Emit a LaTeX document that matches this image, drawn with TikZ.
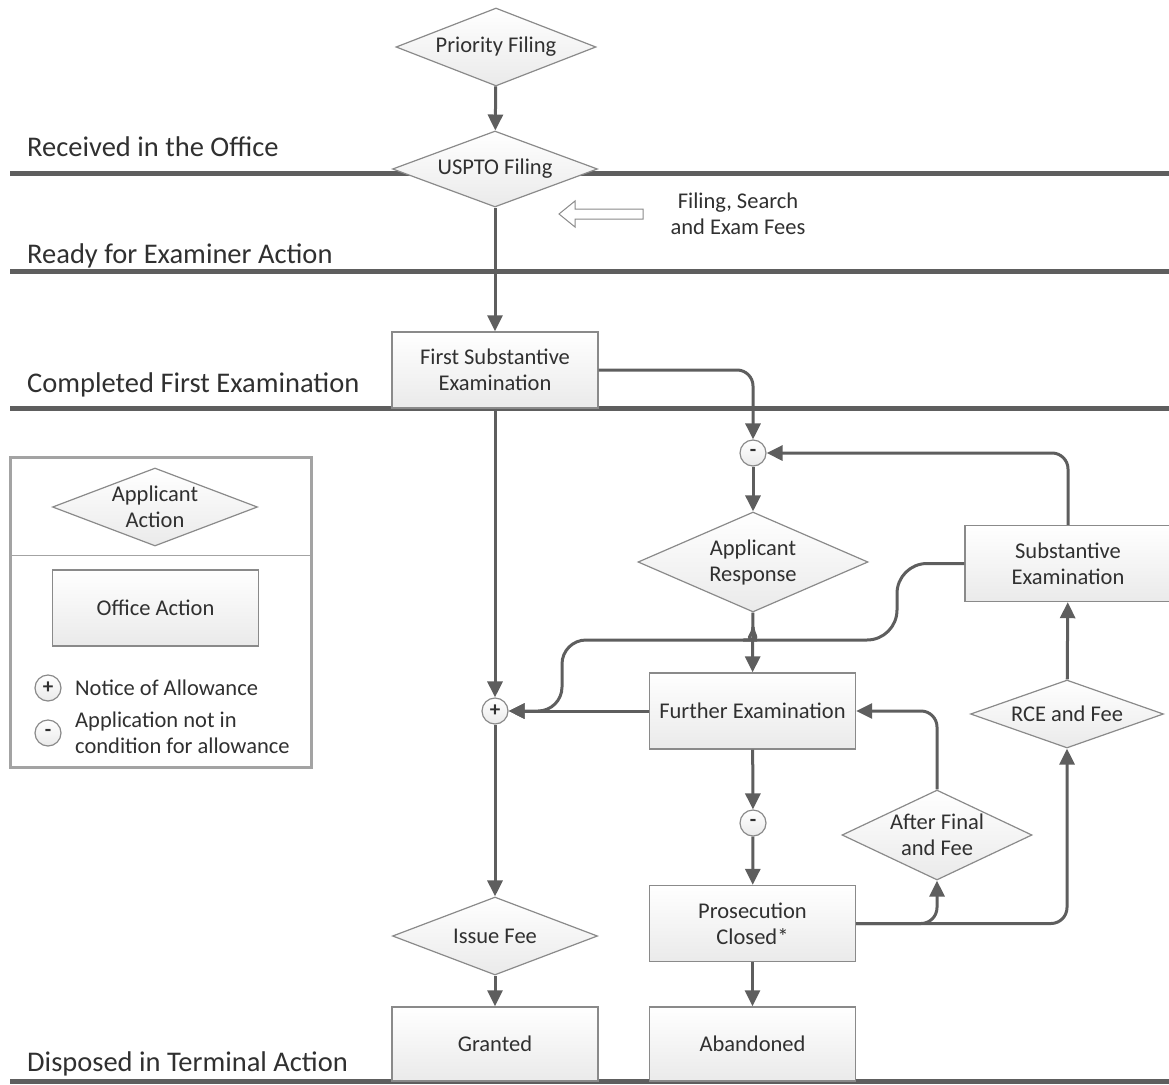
\documentclass[tikz,border=0pt]{standalone}
\usepackage{fontspec}
\setmainfont{Carlito}
\usetikzlibrary{arrows.meta,calc,positioning,shapes.geometric}
\definecolor{Ink}{HTML}{303030}
\definecolor{Wire}{HTML}{5E5E5E}
\definecolor{Edge}{HTML}{8A8A8A}
\definecolor{Frame}{HTML}{A3A3A3}
\definecolor{Shade}{HTML}{EAEAEA}
\tikzset{office/.style={draw=Edge,line width=1.4pt,top color=white,bottom color=Shade,minimum width=206pt,minimum height=76pt,align=center,inner sep=2pt,text=Ink,font=\fontsize{22.5}{26}\selectfont},applicant/.style={diamond,aspect=2.2,draw=Edge,line width=1.2pt,top color=white,bottom color=Shade,align=center,inner sep=-12pt,text=Ink,font=\fontsize{22.5}{26}\selectfont},sign/.style={circle,draw=Edge,line width=1.2pt,top color=white,bottom color=Shade,minimum size=26pt,inner sep=0pt,text=Ink,font=\fontsize{21}{21}\selectfont\bfseries},flow/.style={-{Triangle[length=16pt,width=15pt]},line width=3pt,draw=Wire,rounded corners=16pt},stage/.style={line width=5pt,draw=Wire},stagelabel/.style={anchor=base west,inner sep=0pt,text=Ink,font=\fontsize{28.5}{34}\selectfont},note/.style={inner sep=0pt,text=Ink,font=\fontsize{22.5}{26}\selectfont}}

\begin{document}
\begin{tikzpicture}[x=1pt,y=-1pt]
        \useasboundingbox (0,0) rectangle (1169,1084);
        % stages
        \draw[stage](10,173)--(1169,173);
        \draw[stage](10,271)--(1169,271);
        \draw[stage](10,408)--(1169,408);
        \draw[stage](10,1081)--(1169,1081);
        \node[stagelabel](received)at(27,156){Received in the Office};
        \node[stagelabel](ready)at(27,263){Ready for Examiner Action};
        \node[stagelabel](completed)at(27,392){Completed First Examination};
        \node[stagelabel](disposed)at(27,1071){Disposed in Terminal Action};
        % legend
        \draw[draw=Frame,line width=3pt](10,457)rectangle(311,767);
        \draw[draw=Frame,line width=.8pt](10,555)--(311,555);
        \node[applicant,minimum width=205pt,minimum height=78pt](keyapp)at(155,507){Applicant\\Action};
        \node[office](keyoffice)at(155.5,608){Office Action};
        \node[sign](keyplus)at(48,688){+};
        \node[sign](keyminus)at(48,733){-};
        \node[note,anchor=west](keyplustext)at(75,688){Notice of Allowance};
        \node[note,anchor=west,align=left](keyminustext)at(75,733){Application not in\\condition for allowance};
        % nodes
        \node[applicant,minimum width=200pt,minimum height=78pt](prio)at(496,47){Priority Filing};
        \node[applicant,minimum width=205pt,minimum height=76pt](uspto)at(495,169){USPTO Filing};
        \node[office](fse)at(495,370){First Substantive\\Examination};
        \node[sign](m1)at(753,453){-};
        \node[applicant,minimum width=230pt,minimum height=100pt](resp)at(753,562){Applicant\\Response};
        \node[office](sub)at(1068,563.5){Substantive\\Examination};
        \node[office](fe)at(752.5,711){Further Examination};
        \node[sign](plus)at(495,711){+};
        \node[sign](m2)at(753,823){-};
        \node[applicant,minimum width=193pt,minimum height=68pt](rce)at(1067,714){RCE and Fee};
        \node[applicant,minimum width=190pt,minimum height=90pt](af)at(937,835){After Final\\and Fee};
        \node[office](pc)at(752.5,923.5){Prosecution\\Closed*};
        \node[applicant,minimum width=205pt,minimum height=78pt](fee)at(495,936){Issue Fee};
        \node[office,minimum height=74pt](granted)at(495,1044){Granted};
        \node[office,minimum height=74pt](aband)at(752.5,1044){Abandoned};
        \node[note,align=center](fees)at(738,214){Filing, Search\\and Exam Fees};
        \draw[draw=Edge,fill=white,line width=1pt](643,209)--(575,209)--(575,201)--(559,214)--(575,227)--(575,219)--(643,219)--cycle;
        % connectors
        \draw[flow](prio)--(uspto);
        \draw[flow](uspto)--(fse);
        \draw[flow](fse.east)-|(m1);
        \draw[flow](sub.north)|-(m1);
        \draw[flow](m1)--(resp);
        \draw[flow](resp)--(fe);
        \coordinate(join)at(753,627);
        \draw[flow,-,rounded corners=30pt](sub.west)--(897,563.5)--(897,640)--(773,640)to[out=180,in=-90](join);
        \draw[flow,rounded corners=24pt](join)to[out=-90,in=0](733,640)--(562,640)--(562,711)--(plus);
        \draw[flow](fe)--(plus);
        \draw[flow](fse)--(plus);
        \draw[flow](plus)--(fee);
        \draw[flow](fee)--(granted);
        \draw[flow](fe)--(m2);
        \draw[flow](m2)--(pc);
        \draw[flow](pc)--(aband);
        \draw[flow](pc.east)-|(af);
        \draw[flow](pc.east)-|(rce);
        \draw[flow](af)|-(fe);
        \draw[flow](rce)--(sub);
      \end{tikzpicture}
\end{document}
